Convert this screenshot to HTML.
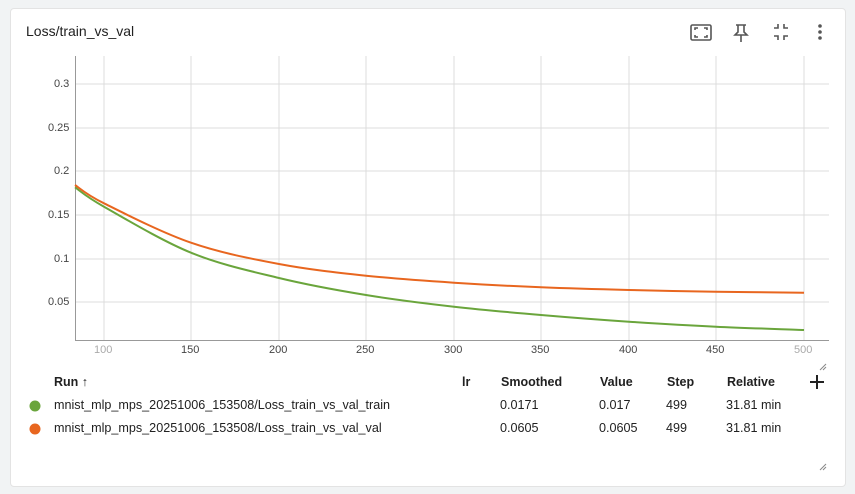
<!DOCTYPE html>
<html><head><style>
body{margin:0;width:855px;height:494px;background:#f1f3f4;font-family:"Liberation Sans",sans-serif;position:relative;overflow:hidden}
.card{position:absolute;left:10px;top:8px;width:834px;height:477px;background:#fff;border:1px solid #e3e3e3;border-radius:4px}
.t{position:absolute;font-size:12.6px;color:#212121;white-space:nowrap}
.h{font-weight:bold;font-size:12.5px}
.tick{position:absolute;font-size:11px;color:#444;white-space:nowrap}
</style></head><body>
<div class="card"></div>
<div class="t" style="left:26px;top:23px;font-size:14px">Loss/train_vs_val</div>
<svg style="position:absolute;left:0;top:0" width="855" height="494">
<g fill="none" stroke="#555" stroke-width="1.6">
<rect x="691" y="25" width="20" height="15" rx="1.5"/>
<path d="M695 30v-2h3M707 30v-2h-3M695 35v2h3M707 35v2h-3"/>
<path d="M736 25h10M738 25v7l-3 3h12l-3-3v-7M741 35v7"/>
<path d="M774 28h4v-4M788 28h-4v-4M774 36h4v4M788 36h-4v4"/>
</g>
<g fill="#555"><circle cx="820" cy="26" r="1.8"/><circle cx="820" cy="32" r="1.8"/><circle cx="820" cy="38" r="1.8"/></g>
<g stroke="#dcdcdc" stroke-width="1">
<line x1="75" y1="84" x2="829" y2="84"/><line x1="75" y1="128" x2="829" y2="128"/>
<line x1="75" y1="171" x2="829" y2="171"/><line x1="75" y1="215" x2="829" y2="215"/>
<line x1="75" y1="259" x2="829" y2="259"/><line x1="75" y1="302" x2="829" y2="302"/>
<line x1="104" y1="56" x2="104" y2="340"/><line x1="191" y1="56" x2="191" y2="340"/>
<line x1="279" y1="56" x2="279" y2="340"/><line x1="366" y1="56" x2="366" y2="340"/>
<line x1="454" y1="56" x2="454" y2="340"/><line x1="541" y1="56" x2="541" y2="340"/>
<line x1="629" y1="56" x2="629" y2="340"/><line x1="716" y1="56" x2="716" y2="340"/>
<line x1="804" y1="56" x2="804" y2="340"/>
</g>
<line x1="75.5" y1="56" x2="75.5" y2="340" stroke="#999"/>
<line x1="75" y1="340.5" x2="829" y2="340.5" stroke="#999"/>
<path id="g" fill="none" stroke="#6aa53c" stroke-width="2"/>
<path id="o" fill="none" stroke="#e8661f" stroke-width="2"/>
<g stroke="#888" stroke-width="1"><path d="M820 370l6-6M823 370l3-3M820 470l6-6M823 470l3-3"/></g>
<circle cx="35" cy="406" r="5.5" fill="#6aa53c"/><circle cx="35" cy="429" r="5.5" fill="#e8661f"/>
<path d="M817 375v14M810 382h14" stroke="#222" stroke-width="2"/>
</svg>
<div class="tick" style="left:54px;top:78px">0.3</div>
<div class="tick" style="left:48px;top:122px">0.25</div>
<div class="tick" style="left:54px;top:165px">0.2</div>
<div class="tick" style="left:48px;top:209px">0.15</div>
<div class="tick" style="left:54px;top:253px">0.1</div>
<div class="tick" style="left:48px;top:296px">0.05</div>
<div class="tick" style="left:94px;top:344px;color:#aaa">100</div>
<div class="tick" style="left:181px;top:344px">150</div>
<div class="tick" style="left:269px;top:344px">200</div>
<div class="tick" style="left:356px;top:344px">250</div>
<div class="tick" style="left:444px;top:344px">300</div>
<div class="tick" style="left:531px;top:344px">350</div>
<div class="tick" style="left:619px;top:344px">400</div>
<div class="tick" style="left:706px;top:344px">450</div>
<div class="tick" style="left:794px;top:344px;color:#aaa">500</div>
<div class="t h" style="left:54px;top:375px">Run ↑</div>
<div class="t h" style="left:462px;top:375px">lr</div>
<div class="t h" style="left:501px;top:375px">Smoothed</div>
<div class="t h" style="left:600px;top:375px">Value</div>
<div class="t h" style="left:667px;top:375px">Step</div>
<div class="t h" style="left:727px;top:375px">Relative</div>
<div class="t" style="left:54px;top:398px">mnist_mlp_mps_20251006_153508/Loss_train_vs_val_train</div>
<div class="t" style="left:500px;top:398px">0.0171</div>
<div class="t" style="left:599px;top:398px">0.017</div>
<div class="t" style="left:666px;top:398px">499</div>
<div class="t" style="left:726px;top:398px">31.81 min</div>
<div class="t" style="left:54px;top:421px">mnist_mlp_mps_20251006_153508/Loss_train_vs_val_val</div>
<div class="t" style="left:500px;top:421px">0.0605</div>
<div class="t" style="left:599px;top:421px">0.0605</div>
<div class="t" style="left:666px;top:421px">499</div>
<div class="t" style="left:726px;top:421px">31.81 min</div>
<script>
var X=[75,104,191,279,366,454,541,629,716,804];
function cr(Y){var p=X.map(function(x,i){return [x,Y[i]];});var d="M"+p[0][0]+","+p[0][1];
for(var i=0;i<p.length-1;i++){var p0=p[i-1]||p[i],p1=p[i],p2=p[i+1],p3=p[i+2]||p2;
d+=" C"+(p1[0]+(p2[0]-p0[0])/6).toFixed(1)+","+(p1[1]+(p2[1]-p0[1])/6).toFixed(1)+" "+(p2[0]-(p3[0]-p1[0])/6).toFixed(1)+","+(p2[1]-(p3[1]-p1[1])/6).toFixed(1)+" "+p2[0]+","+p2[1];}
return d;}
document.getElementById("g").setAttribute("d",cr([187.3,206.7,252.7,278,295,306.7,315,321.7,326.7,330]));
document.getElementById("o").setAttribute("d",cr([185,203.3,242.7,264,275.7,282.7,287.3,290,291.7,292.7]));
</script>
</body></html>
